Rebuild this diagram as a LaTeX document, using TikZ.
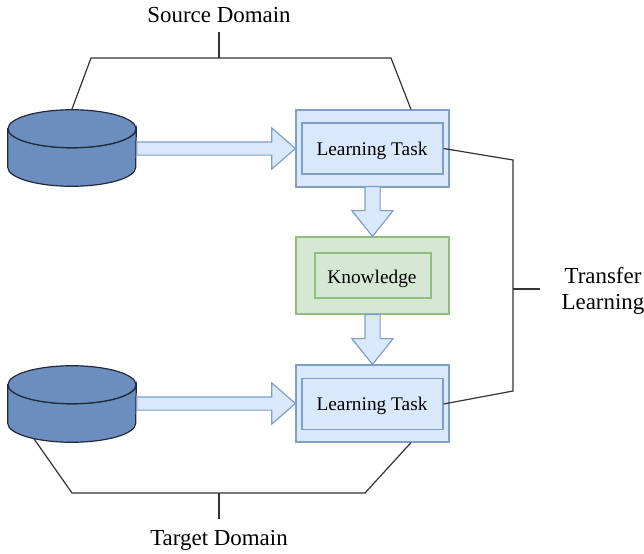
\documentclass[tikz,border=0pt]{standalone}
\usepackage{fontspec}
\setmainfont{Liberation Serif}
\usetikzlibrary{shapes.arrows,calc}
\definecolor{bluefill}{HTML}{DAE8FC}
\definecolor{blueline}{HTML}{7F9FC6}
\definecolor{greenfill}{HTML}{D5E8D4}
\definecolor{greenline}{HTML}{93BC80}
\definecolor{dbfill}{HTML}{6C8EBF}
\definecolor{dbline}{HTML}{1F2A3A}
\definecolor{lineink}{HTML}{333333}
\tikzset{
  x=0.75pt,y=-0.75pt,
  lbl/.style={font=\fontsize{17.2}{19.5}\selectfont,text=black,inner sep=0pt,align=center},
  inlbl/.style={font=\fontsize{14.5}{17}\selectfont,text=black,inner sep=0pt},
  outerblue/.style={draw=blueline,fill=bluefill,line width=0.9pt,minimum width=114.75pt,minimum height=57.75pt,inner sep=0pt},
  innerblue/.style={draw=blueline,fill=bluefill,line width=0.9pt,minimum width=105.75pt,minimum height=38.25pt,inner sep=0pt},
  outergreen/.style={draw=greenline,fill=greenfill,line width=0.9pt,minimum width=114.75pt,minimum height=57.75pt,inner sep=0pt},
  innergreen/.style={draw=greenline,fill=greenfill,line width=0.9pt,minimum width=87pt,minimum height=33.75pt,inner sep=0pt},
  dbspace/.style={minimum width=96pt,minimum height=57pt,inner sep=0pt},
  dbshape/.style={draw=dbline,fill=dbfill,line width=0.9pt},
  conn/.style={draw=lineink,line width=0.9pt,line join=miter},
  hbig/.style={single arrow,draw=blueline,fill=bluefill,line width=0.9pt,inner sep=0pt,outer sep=0pt,anchor=tip,
    text height=9pt,text depth=0pt,text width=0pt,
    minimum height=119pt,minimum width=30pt,single arrow head extend=10.5pt,
    single arrow tip angle=82,single arrow head indent=0pt},
  vbig/.style={single arrow,draw=blueline,fill=bluefill,line width=0.9pt,inner sep=0pt,outer sep=0pt,shape border rotate=270,anchor=tip,
    text height=0pt,text depth=0pt,text width=10.5pt,
    minimum height=37.5pt,minimum width=30pt,single arrow head extend=9.75pt,
    single arrow tip angle=77.3,single arrow head indent=0pt},
}
\newcommand{\dbdraw}[1]{%
  \path[dbshape] ($(#1.north west)+(0,19)$) -- ($(#1.south west)+(0,-19)$)
    arc[start angle=180,end angle=360,x radius=48pt,y radius=14.25pt]
    -- ($(#1.north east)+(0,19)$) arc[start angle=0,end angle=180,x radius=48pt,y radius=-14.25pt] -- cycle;
  \path[dbshape] ($(#1.north)+(0,19)$) ellipse[x radius=48pt,y radius=14.25pt];
}
\begin{document}
\begin{tikzpicture}
\useasboundingbox (0,0) rectangle (644,554);
% databases
\node[dbspace] (dbA) at (72,148) {};
\node[dbspace] (dbB) at (72,404) {};
% free ends of the connectors
\coordinate (srcL) at (91,58); \coordinate (srcR) at (391,58); \coordinate (srcM) at (219,58); \coordinate (srcS) at (219,32);
\coordinate (tgtL) at (72,493); \coordinate (tgtR) at (365,493); \coordinate (tgtM) at (219,493); \coordinate (tgtS) at (219,519);
\coordinate (trTop) at (513,160); \coordinate (trBot) at (513,391); \coordinate (trM) at (513,289); \coordinate (trS) at (540,289);
\coordinate (dbAt) at (72,109); \coordinate (dbBb) at (32,436);
% boxes
\node[outerblue] (taskA) at (372.5,148.5) {};
\node[innerblue] (innerA) at (372.5,148.5) {};
\node[inlbl] (textA) at (372,151) {Learning Task};
\node[outergreen] (know) at (372.5,275.5) {};
\node[innergreen] (innerK) at (373,275.5) {};
\node[inlbl] (textK) at (372,279) {Knowledge};
\node[outerblue] (taskB) at (372.5,403.5) {};
\node[innerblue] (innerB) at (372.5,404) {};
\node[inlbl] (textB) at (372,406) {Learning Task};
% connectors
\draw[conn] (dbAt) -- (srcL) -- (srcR) -- ($(taskA.north)+(38.5,0)$);
\node[lbl] (source) at (219,15) {Source Domain};
\draw[conn] (srcM) -- (srcS);
\draw[conn] (dbBb) -- (tgtL) -- (tgtR) -- ($(taskB.south)+(38.5,0)$);
\node[lbl] (target) at (219,540) {Target Domain};
\draw[conn] (tgtM) -- (tgtS);
\draw[conn] (innerA.east) -- (trTop) -- (trBot) -- (innerB.east);
\node[lbl] (transfer) at (603,291) {Transfer\\Learning};
\draw[conn] (trM) -- (trS);
% drums
\dbdraw{dbA}
\dbdraw{dbB}
% block arrows
\node[hbig] (arrA) at (taskA.west) {};
\node[hbig] (arrB) at (taskB.west) {};
\node[vbig] (arrK1) at (know.north) {};
\node[vbig] (arrK2) at (taskB.north) {};
\end{tikzpicture}
\end{document}
